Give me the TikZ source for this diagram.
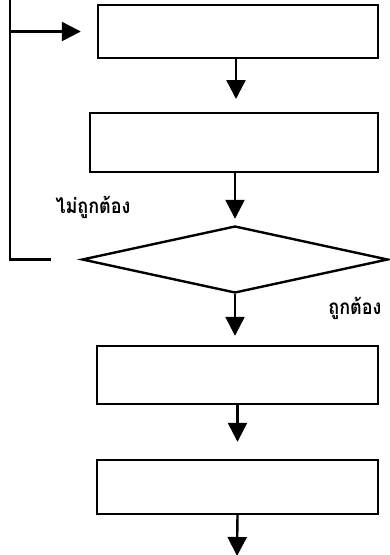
\documentclass[tikz,border=0pt]{standalone}
\usepackage{fontspec}
\newfontfamily\thaifont[Script=Thai]{Loma}
\usetikzlibrary{arrows.meta,shapes.geometric}
\tikzset{
  stepbox/.style={draw,line width=2.4pt,inner sep=0pt},
  flow/.style={line width=2.4pt,-{Triangle[width=19pt,length=19pt]}},
  thlabel/.style={font=\thaifont\bfseries\fontsize{18}{20}\selectfont}
}
\begin{document}
\begin{tikzpicture}[x=1pt,y=-1pt]
      \useasboundingbox (0,0) rectangle (389,555) ;
      \node[stepbox,minimum width=280pt,minimum height=53pt] (b1) at (238,31.5) {} ;
      \node[stepbox,minimum width=288pt,minimum height=59pt] (b2) at (234,142.5) {} ;
      \node[stepbox,shape=diamond,minimum width=306pt,minimum height=67pt] %
      (chk) at (235,259.5) {} ;
      \node[stepbox,minimum width=281pt,minimum height=58pt] (b3) at (237.5,375) {} ;
      \node[stepbox,minimum width=281pt,minimum height=54pt] (b4) at (237.5,487) {} ;
      \coordinate (out) at (237,556) ;
      \coordinate (back) at (10,0) ;
      \draw[flow,shorten >=14pt] (236,58) -- (236,113) ;
      \draw[flow,shorten >=6pt] (b2.south -| chk.north) -- (chk.north) ;
      \draw[flow,shorten >=9pt] (chk.south) -- (chk.south |- b3.north) ;
      \draw[flow,shorten >=17pt] (b3.south) -- (b4.north) ;
      \draw[flow] (b4.south) -- (out) ;
      \draw[flow,shorten <=30pt,shorten >=16pt] (chk.west) -| (back) |- (b1.west) ;
      \node[thlabel,yscale=1.15] (no) at (93,207) {ไม่ถูกต้อง} ;
      \node[thlabel,yscale=1.15] (yes) at (355,308) {ถูกต้อง} ;
    \end{tikzpicture}
\end{document}
